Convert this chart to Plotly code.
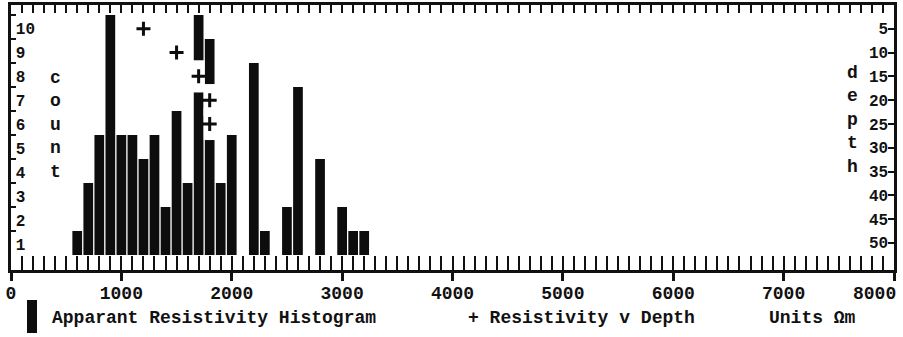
import plotly.graph_objects as go

# ---- data ----
res_bins = [600, 700, 800, 900, 1000, 1100, 1200, 1300, 1400, 1500, 1600, 1700, 1800,
            1900, 2000, 2100, 2200, 2300, 2400, 2500, 2600, 2700, 2800, 2900, 3000, 3100, 3200]
counts = [1, 3, 5, 10, 5, 5, 4, 5, 2, 6, 3, 10, 9,
          3, 5, 0, 8, 1, 0, 2, 7, 0, 4, 0, 2, 1, 1]

depth_res = [1200, 1500, 1700, 1800, 1800]
depths = [5, 10, 15, 20, 25]

x_tickvals = [0, 1000, 2000, 3000, 4000, 5000, 6000, 7000]
x_ticktext = ["0", "1000", "2000", "3000", "4000", "5000", "6000", "7000"]
x_last_label = "8000"
count_ticks = [1, 2, 3, 4, 5, 6, 7, 8, 9, 10]
depth_ticks = [5, 10, 15, 20, 25, 30, 35, 40, 45, 50]

FONT = "Liberation Mono"
INK = "#111"
W, H = 903, 337
ML, MR, MT, MB = 11, 9, 5, 67
PW = W - ML - MR
PH = H - MT - MB


def px(xp):
    return (xp - ML) / PW


def py(yp):
    return (H - MB - yp) / PH


fig = go.Figure()

fig.add_trace(go.Bar(
    x=res_bins, y=counts, marker=dict(color="#0d0d0d", line=dict(width=0)),
    xaxis="x", yaxis="y", hoverinfo="skip", showlegend=False))

# white text-cell behind each '+' (as in the original print)
fig.add_trace(go.Scatter(
    x=depth_res, y=depths, xaxis="x", yaxis="y2", mode="markers",
    marker=dict(symbol="line-ns", size=23, line=dict(color="white", width=12)),
    hoverinfo="skip", showlegend=False))
fig.add_trace(go.Scatter(
    x=depth_res, y=depths, xaxis="x", yaxis="y2", mode="markers",
    marker=dict(symbol="cross-thin", size=10, line=dict(color="#0d0d0d", width=3)),
    hoverinfo="skip", showlegend=False))

# invisible helper traces so the extra tick axes are drawn
fig.add_trace(go.Scatter(
    x=res_bins, y=counts, xaxis="x3", yaxis="y", mode="markers",
    marker=dict(opacity=0), hoverinfo="skip", showlegend=False))
fig.add_trace(go.Scatter(
    x=res_bins, y=counts, xaxis="x2", yaxis="y", mode="markers",
    marker=dict(opacity=0), hoverinfo="skip", showlegend=False))

tickfont = dict(family=FONT, size=18, color=INK, weight="bold")
smallfont = dict(family=FONT, size=16, color=INK, weight="bold")

fig.update_layout(
    width=W, height=H,
    margin=dict(l=ML, r=MR, t=MT, b=MB, autoexpand=False),
    paper_bgcolor="white", plot_bgcolor="white",
    bargap=0.12,
    xaxis=dict(
        range=[0, 8000], tickvals=x_tickvals, ticktext=x_ticktext, automargin=False,
        ticks="inside", ticklen=14, tickwidth=2, tickcolor=INK,
        minor=dict(dtick=100, tick0=0, ticks="inside", ticklen=14, tickwidth=2, tickcolor=INK),
        showline=True, linewidth=3, linecolor=INK,
        showgrid=False, zeroline=False, tickfont=tickfont, ticklabelstandoff=4,
    ),
    xaxis2=dict(
        range=[0, 8000], overlaying="x", side="bottom", anchor="y", automargin=False,
        tick0=0, dtick=1000, ticks="outside", ticklen=10, tickwidth=3, tickcolor=INK,
        showticklabels=False, showline=False, showgrid=False, zeroline=False,
    ),
    xaxis3=dict(
        range=[0, 8000], overlaying="x", side="top", anchor="y", automargin=False,
        tick0=0, dtick=100, ticks="inside", ticklen=8, tickwidth=2, tickcolor=INK,
        showticklabels=False, showline=True, linewidth=3, linecolor=INK,
        showgrid=False, zeroline=False,
    ),
    yaxis=dict(
        range=[-0.625, 10.417], tickvals=count_ticks, automargin=False,
        ticks="inside", ticklen=5, tickwidth=2, tickcolor=INK,
        ticklabelposition="inside", ticklabelshift=13, ticklabeloverflow="allow",
        showline=True, linewidth=3, linecolor=INK,
        showgrid=False, zeroline=False, tickfont=smallfont,
    ),
    yaxis2=dict(
        range=[55.7, 0], overlaying="y", side="right", anchor="x", automargin=False,
        tickvals=depth_ticks, ticks="inside", ticklen=6, tickwidth=2, tickcolor=INK,
        ticklabelposition="inside", ticklabeloverflow="allow",
        showline=True, linewidth=3, linecolor=INK,
        showgrid=False, zeroline=False, tickfont=smallfont,
    ),
)

ann_font = dict(family=FONT, size=18, color=INK, weight="bold")
fig.add_annotation(text=x_last_label, xref="x", x=8000, yref="paper", y=py(294),
                   xanchor="right", yanchor="middle", showarrow=False, font=ann_font, xshift=4)
fig.add_annotation(text="c<br>o<br>u<br>n<br>t", xref="paper", x=px(55), yref="paper", y=py(125),
                   xanchor="center", yanchor="middle", showarrow=False, font=ann_font)
fig.add_annotation(text="d<br>e<br>p<br>t<br>h", xref="paper", x=px(852), yref="paper", y=py(120),
                   xanchor="center", yanchor="middle", showarrow=False, font=ann_font)

# legend line
fig.add_shape(type="rect", xref="paper", yref="paper",
              x0=px(27), x1=px(37), y0=py(333), y1=py(300),
              fillcolor="#0d0d0d", line=dict(width=0))
fig.add_annotation(text="Apparant Resistivity Histogram", xref="paper", x=px(50),
                   yref="paper", y=py(318), xanchor="left", yanchor="middle",
                   showarrow=False, font=ann_font)
fig.add_annotation(text="+ Resistivity v Depth", xref="paper", x=px(466),
                   yref="paper", y=py(318), xanchor="left", yanchor="middle",
                   showarrow=False, font=ann_font)
fig.add_annotation(text="Units \u03a9m", xref="paper", x=px(767),
                   yref="paper", y=py(318), xanchor="left", yanchor="middle",
                   showarrow=False, font=ann_font)

fig.write_html("out.html", config={"displayModeBar": False},
               post_script="document.body.style.margin='0';document.body.style.overflow='hidden';")
